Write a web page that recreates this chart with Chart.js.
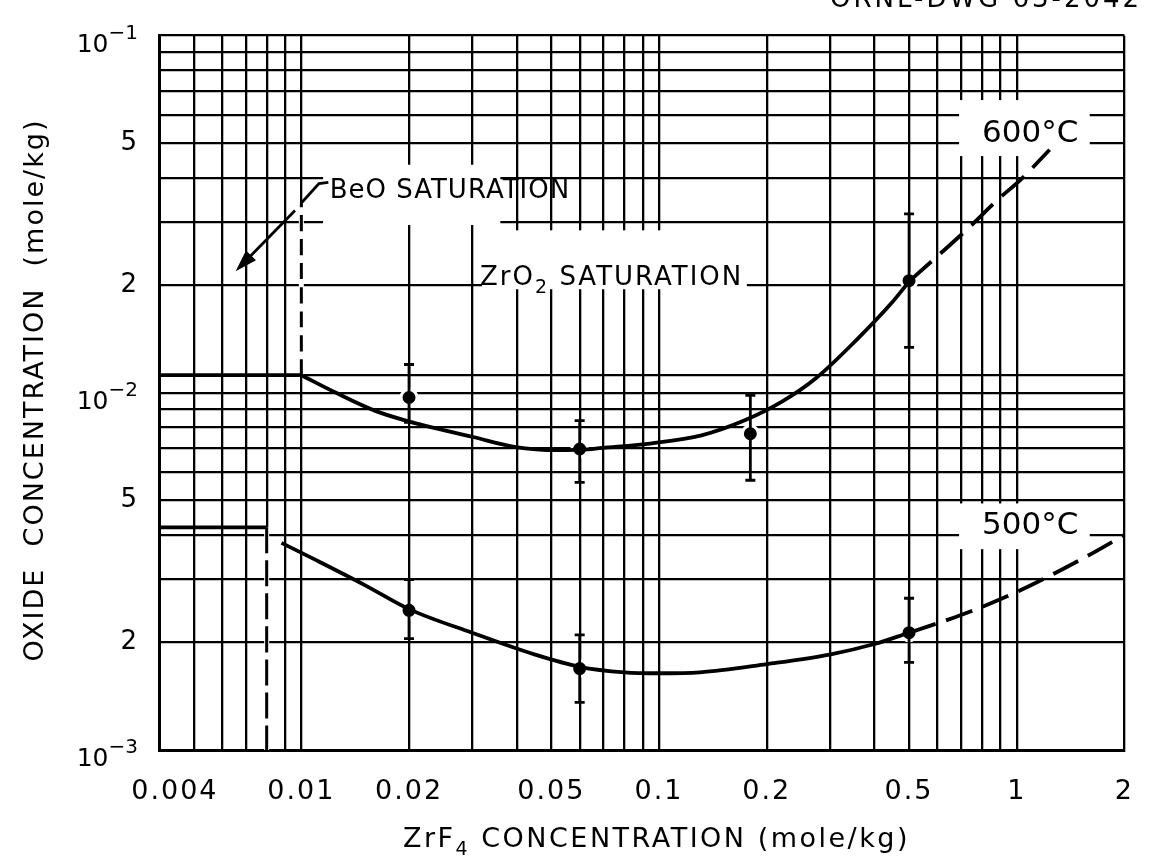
<!DOCTYPE html>
<html><head><meta charset="utf-8">
<script src="https://cdn.jsdelivr.net/npm/chart.js@4.4.1/dist/chart.umd.min.js"></script>
<style>html,body{margin:0;padding:0;background:#fff;}#wrap{width:1159px;height:860px;}</style>
</head><body><div id="wrap"><canvas id="c" width="1159" height="860"></canvas></div>
<script>
// ---------- axis grid / tick labels ----------
const xGrid = [0.004,0.005,0.006,0.007,0.008,0.009,0.01,0.02,0.03,0.04,0.05,0.06,0.07,0.08,0.09,0.1,0.2,0.3,0.4,0.5,0.6,0.7,0.8,0.9,1,2];
const xTickText = {"0.004":"   0.004","0.01":"0.01","0.02":"0.02","0.05":"0.05","0.1":"0.1","0.2":"0.2","0.5":"0.5","1":"1","2":"2"};
const yGrid = [0.001,0.002,0.003,0.004,0.005,0.006,0.007,0.008,0.009,0.01,0.0112,0.02,0.03,0.04,0.05,0.06,0.07,0.08,0.09,0.1];
const yTickText = {"0.002":"2","0.005":"5","0.02":"2","0.05":"5"};
const yPowerTicks = [0.001, 0.01, 0.1];
const yPowerExp = ["\u22123", "\u22122", "\u22121"];

// ---------- 600 °C ----------
const hotPlateauX = [0.004, 0.01];
const hotPlateauY = [0.0112, 0.0112];
const hotBeoX = [0.01, 0.01];
const hotBeoY = [0.0112, 0.034];
const hotCurveX = [0.01, 0.0125, 0.0161, 0.0196, 0.0302, 0.0394, 0.0522, 0.0608, 0.0693, 0.0955, 0.1315, 0.173, 0.22, 0.275, 0.36, 0.446, 0.5];
const hotCurveY = [0.0112, 0.0100, 0.0089, 0.00836, 0.00752, 0.00706, 0.00691, 0.00693, 0.00701, 0.00722, 0.0076, 0.00836, 0.00943, 0.011, 0.0142, 0.0178, 0.0205];
const hotDashX = [0.5, 0.754, 0.873, 1.033, 1.236];
const hotDashY = [0.0205, 0.0297, 0.0343, 0.0398, 0.0479];
const hotPtX = [0.02, 0.06, 0.18, 0.5];
const hotPtY = [0.0097, 0.00696, 0.00768, 0.0206];
const hotLo = [0.00827, 0.00561, 0.00569, 0.0134];
const hotHi = [0.0120, 0.00836, 0.00984, 0.0317];

// ---------- 500 °C ----------
const coldPlateauX = [0.004, 0.008];
const coldPlateauY = [0.0042, 0.0042];
const coldBeoX = [0.008, 0.008];
const coldBeoY = [0.0042, 0.001];
const coldCurveX = [0.0088, 0.011, 0.015, 0.02, 0.03, 0.045, 0.06, 0.08, 0.1, 0.13, 0.2, 0.3, 0.4, 0.5];
const coldCurveY = [0.0038, 0.0034, 0.0029, 0.00248, 0.00213, 0.00185, 0.00171, 0.00165, 0.00164, 0.00165, 0.00174, 0.00185, 0.00198, 0.00213];
const coldDashX = [0.5, 0.693, 1.0, 1.574, 2];
const coldDashY = [0.00213, 0.00238, 0.00277, 0.00349, 0.0040];
const coldPtX = [0.02, 0.06, 0.5];
const coldPtY = [0.00246, 0.00169, 0.00213];
const coldLo = [0.00205, 0.00136, 0.00176];
const coldHi = [0.0030, 0.0021, 0.00266];

const FONT = '"DejaVu Sans", "Liberation Sans", Arial, sans-serif';
const pts = (xs, ys) => xs.map((x, i) => ({x: x, y: ys[i]}));

const line = (xs, ys, dash, w) => ({
  data: pts(xs, ys), showLine: true, borderColor: '#000', backgroundColor: '#000',
  borderWidth: w || 3.8, borderDash: dash || [], pointRadius: 0, pointHoverRadius: 0,
  cubicInterpolationMode: 'monotone', fill: false
});
const dots = (xs, ys) => ({
  data: pts(xs, ys), showLine: false, pointRadius: 8, pointHoverRadius: 8,
  pointBackgroundColor: '#000', pointBorderColor: '#fff', pointBorderWidth: 3
});

// annotation layout (data coordinates)
const labelBoxes = [
  {x0: 0.0115, x1: 0.036, y0: 0.0295, y1: 0.0435},   // BeO SATURATION
  {x0: 0.032, x1: 0.176, y0: 0.0195, y1: 0.0285},    // ZrO2 SATURATION
  {x0: 0.69, x1: 1.6, y0: 0.046, y1: 0.066},        // 600 °C
  {x0: 0.69, x1: 1.6, y0: 0.00365, y1: 0.0049}      // 500 °C
];
const whiteOut = [
  {x: 0.01, y0: 0.0112, y1: 0.034},
  {x: 0.008, y0: 0.001, y1: 0.0042}
];

function richText(ctx, parts, x, y, align, size, spacing) {
  ctx.letterSpacing = (spacing || 0) + 'px';
  let w = 0;
  parts.forEach(p => { ctx.font = (p.sub ? Math.round(size * 0.72) : size) + 'px ' + FONT; w += ctx.measureText(p.t).width; });
  let cx = align === 'right' ? x - w : (align === 'center' ? x - w / 2 : x);
  ctx.textAlign = 'left';
  parts.forEach(p => {
    ctx.font = (p.sub ? Math.round(size * 0.72) : size) + 'px ' + FONT;
    ctx.fillText(p.t, cx, y + (p.sub ? size * 0.28 : 0));
    cx += ctx.measureText(p.t).width;
  });
  ctx.letterSpacing = '0px';
}

const annot = {
  id: 'annot',
  beforeDraw(chart) { chart.ctx.letterSpacing = '2px'; },
  beforeDatasetsDraw(chart) {
    const {ctx, scales: {x, y}} = chart;
    ctx.save();
    ctx.strokeStyle = '#fff'; ctx.lineWidth = 5;
    whiteOut.forEach(s => {
      ctx.beginPath();
      ctx.moveTo(x.getPixelForValue(s.x), y.getPixelForValue(s.y0));
      ctx.lineTo(x.getPixelForValue(s.x), y.getPixelForValue(s.y1));
      ctx.stroke();
    });
    ctx.fillStyle = '#fff';
    labelBoxes.forEach(b => {
      const X0 = x.getPixelForValue(b.x0), X1 = x.getPixelForValue(b.x1);
      const Y0 = y.getPixelForValue(b.y1), Y1 = y.getPixelForValue(b.y0);
      ctx.fillRect(X0, Y0, X1 - X0, Y1 - Y0);
    });
    ctx.restore();
  },
  afterDatasetsDraw(chart) {
    const {ctx, scales: {x, y}} = chart;
    ctx.save();
    ctx.strokeStyle = '#000'; ctx.fillStyle = '#000';
    // error bars
    const bars = (xs, lo, hi) => xs.forEach((v, i) => {
      const px = x.getPixelForValue(v), a = y.getPixelForValue(lo[i]), b = y.getPixelForValue(hi[i]);
      ctx.lineWidth = 2.8;
      ctx.beginPath(); ctx.moveTo(px, a); ctx.lineTo(px, b); ctx.stroke();
      ctx.beginPath(); ctx.moveTo(px - 5, a); ctx.lineTo(px + 5, a); ctx.moveTo(px - 5, b); ctx.lineTo(px + 5, b); ctx.stroke();
    });
    bars(hotPtX, hotLo, hotHi);
    bars(coldPtX, coldLo, coldHi);
    // BeO leader + arrow
    ctx.lineWidth = 2.8;
    ctx.beginPath();
    ctx.moveTo(x.getPixelForValue(0.01), y.getPixelForValue(0.034));
    ctx.lineTo(x.getPixelForValue(0.0112), y.getPixelForValue(0.0385));
    ctx.lineTo(x.getPixelForValue(0.0119), y.getPixelForValue(0.0388));
    ctx.stroke();
    const ax0 = x.getPixelForValue(0.0096), ay0 = y.getPixelForValue(0.0324);
    const ax1 = x.getPixelForValue(0.00655), ay1 = y.getPixelForValue(0.0219);
    const ang = Math.atan2(ay1 - ay0, ax1 - ax0);
    ctx.beginPath(); ctx.moveTo(ax0, ay0); ctx.lineTo(ax1 - 14 * Math.cos(ang), ay1 - 14 * Math.sin(ang)); ctx.stroke();
    ctx.beginPath();
    ctx.moveTo(ax1, ay1);
    ctx.lineTo(ax1 - 22 * Math.cos(ang) + 7 * Math.sin(ang), ay1 - 22 * Math.sin(ang) - 7 * Math.cos(ang));
    ctx.lineTo(ax1 - 22 * Math.cos(ang) - 7 * Math.sin(ang), ay1 - 22 * Math.sin(ang) + 7 * Math.cos(ang));
    ctx.closePath(); ctx.fill();
    // labels
    ctx.textBaseline = 'alphabetic';
    richText(ctx, [{t: 'BeO SATURATION'}], x.getPixelForValue(0.012), y.getPixelForValue(0.0352), 'left', 26, 1);
    richText(ctx, [{t: 'ZrO'}, {t: '2', sub: true}, {t: ' SATURATION'}], x.getPixelForValue(0.172), y.getPixelForValue(0.02), 'right', 26, 2);
    richText(ctx, [{t: '600\u00B0C'}], x.getPixelForValue(0.80), y.getPixelForValue(0.0503), 'left', 31, 0);
    richText(ctx, [{t: '500\u00B0C'}], x.getPixelForValue(0.80), y.getPixelForValue(0.00402), 'left', 31, 0);
    ctx.restore();
  },
  afterDraw(chart) {
    const {ctx, scales: {y}} = chart;
    ctx.save();
    ctx.letterSpacing = '0px';
    ctx.fillStyle = '#000'; ctx.textBaseline = 'alphabetic'; ctx.textAlign = 'right';
    // power-of-ten y tick labels (10 with superscript exponent)
    yPowerTicks.forEach((v, i) => {
      const py = y.getPixelForValue(v);
      ctx.font = '20px ' + FONT;
      const ew = ctx.measureText(yPowerExp[i]).width;
      ctx.fillText(yPowerExp[i], 138, py + 3);
      ctx.font = '25px ' + FONT;
      ctx.fillText('10', 138 - ew, py + 16);
    });
    // drawing number, cut by the top edge
    ctx.textAlign = 'left';
    ctx.font = '26px ' + FONT;
    ctx.letterSpacing = '3px';
    ctx.fillText('ORNL-DWG 63-2042', 830, 7);
    ctx.letterSpacing = '0px';
    richText(ctx, [{t: 'ZrF'}, {t: '4', sub: true}, {t: ' CONCENTRATION (mole/kg)'}], 910, 847, 'right', 27, 2.5);
    ctx.translate(43, 390); ctx.rotate(-Math.PI / 2);
    richText(ctx, [{t: 'OXIDE  CONCENTRATION  (mole/kg)'}], 0, 0, 'center', 27, 2);
    ctx.restore();
  }
};

new Chart(document.getElementById('c'), {
  type: 'scatter',
  data: {
    datasets: [
      line(hotPlateauX, hotPlateauY),
      line(hotBeoX, hotBeoY, [16, 8], 3),
      line(hotCurveX, hotCurveY),
      line(hotDashX, hotDashY, [30, 12]),
      line(coldPlateauX, coldPlateauY),
      line(coldBeoX, coldBeoY, [26, 7], 3),
      line(coldCurveX, coldCurveY),
      line(coldDashX, coldDashY, [28, 11]),
      dots(hotPtX, hotPtY),
      dots(coldPtX, coldPtY)
    ]
  },
  options: {
    responsive: false, animation: false,
    layout: {padding: {top: 23, right: 16, bottom: 0, left: 0}},
    plugins: {legend: {display: false}, tooltip: {enabled: false}},
    scales: {
      x: {
        type: 'logarithmic', min: 0.004, max: 2,
        afterBuildTicks: s => { s.ticks = xGrid.map(v => ({value: v})); },
        afterFit: s => { s.height = 110; },
        grid: {color: '#000', lineWidth: 2.3, drawTicks: false},
        border: {color: '#000', width: 3},
        ticks: {autoSkip: false, maxRotation: 0, minRotation: 0, padding: 26, color: '#000',
          font: {family: FONT, size: 27}, callback: v => xTickText[String(v)] || ''}
      },
      y: {
        type: 'logarithmic', min: 0.001, max: 0.1,
        afterBuildTicks: s => { s.ticks = yGrid.map(v => ({value: v})); },
        afterFit: s => { s.width = 159; },
        grid: {color: '#000', lineWidth: 2.3, drawTicks: false},
        border: {color: '#000', width: 3},
        ticks: {autoSkip: false, padding: 20, color: '#000',
          font: {family: FONT, size: 26}, callback: v => yTickText[String(v)] || ''}
      }
    }
  },
  plugins: [annot]
});
</script></body></html>
